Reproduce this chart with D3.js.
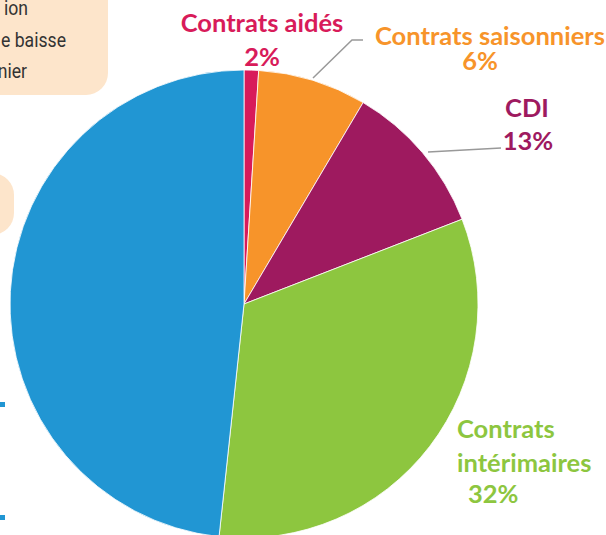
<!DOCTYPE html>
<html>
<head>
<meta charset="utf-8">
<script src="https://cdn.jsdelivr.net/npm/d3@7"></script>
<style>
  html, body { margin: 0; padding: 0; background: #fff; }
  svg { display: block; }
</style>
</head>
<body>
<div id="chart"></div>
<script>
// Répartition des contrats – camembert
const categories = ["Contrats aidés", "Contrats saisonniers", "CDI", "Contrats intérimaires", "CDD"];
// parts (angles des secteurs)
const shares = [1, 7.5, 10.6, 32.6, 48.3];
const pctLabels = ["2%", "6%", "13%", "32%", ""];
const colors = ["#d81b5a", "#f7942a", "#9e1a5f", "#8dc63f", "#2196d3"];

// texte de l'encadré (coupé à gauche)
const noteLines = ["ion", "e baisse", "nier"];

const width = 606, height = 535;
const cx = 244, cy = 304, radius = 234;

const svg = d3.select("#chart").append("svg")
  .attr("width", width).attr("height", height);

// Encadrés beiges
svg.append("rect")
  .attr("x", -40).attr("y", -40).attr("width", 148).attr("height", 135)
  .attr("rx", 22).attr("fill", "#fde5cb");

const sx = 0.84; // police étroite simulée
svg.append("g")
  .attr("transform", `scale(${sx},1)`)
  .selectAll("text")
  .data(noteLines).join("text")
  .attr("x", (d, i) => [28, 66, 27][i] / sx)
  .attr("y", (d, i) => [15, 47, 78][i])
  .attr("text-anchor", "end")
  .attr("font-family", "Roboto")
  .attr("font-weight", 400)
  .attr("font-size", 21)
  .attr("fill", "#333")
  .text(d => d);

svg.append("rect")
  .attr("x", -40).attr("y", 173).attr("width", 54).attr("height", 62)
  .attr("rx", 22).attr("fill", "#fde5cb");

// petits repères bleus
svg.append("g").selectAll("rect")
  .data([402, 515]).join("rect")
  .attr("x", 0).attr("y", d => d).attr("width", 5).attr("height", 5)
  .attr("fill", "#2196d3");

// Camembert
const pie = d3.pie().sort(null).value(d => d);
const arc = d3.arc().innerRadius(0).outerRadius(radius);
const arcs = pie(shares);

const g = svg.append("g").attr("transform", `translate(${cx},${cy})`);
g.selectAll("path")
  .data(arcs).join("path")
  .attr("d", arc)
  .attr("fill", (d, i) => colors[i])
  .attr("stroke", "#fff")
  .attr("stroke-width", 0.8);

// Lignes de rappel
const lineGen = d3.line();
svg.append("path")
  .attr("d", lineGen([[313, 78], [352, 40], [363, 40]]))
  .attr("fill", "none").attr("stroke", "#999").attr("stroke-width", 1.5);
svg.append("path")
  .attr("d", lineGen([[428, 152], [501, 148]]))
  .attr("fill", "none").attr("stroke", "#999").attr("stroke-width", 1.5);

// Étiquettes
const labelStyle = sel => sel
  .attr("font-family", "Lato")
  .attr("font-weight", 700)
  .attr("font-size", 25.5);

const labels = [
  { lines: [categories[0], pctLabels[0]], x: [262, 262], y: [32, 66], anchor: "middle" },
  { lines: [categories[1], pctLabels[1]], x: [490, 480], y: [45, 70], anchor: "middle" },
  { lines: [categories[2], pctLabels[2]], x: [527, 528], y: [117, 150], anchor: "middle" },
  { lines: ["Contrats", "intérimaires", pctLabels[3]], x: [457, 457, 468], y: [438, 472, 503], anchor: "start" }
];

labels.forEach((lb, i) => {
  lb.lines.forEach((t, j) => {
    svg.append("text")
      .call(labelStyle)
      .attr("x", lb.x[j]).attr("y", lb.y[j])
      .attr("text-anchor", lb.anchor)
      .attr("fill", colors[i])
      .text(t);
  });
});
</script>
</body>
</html>
